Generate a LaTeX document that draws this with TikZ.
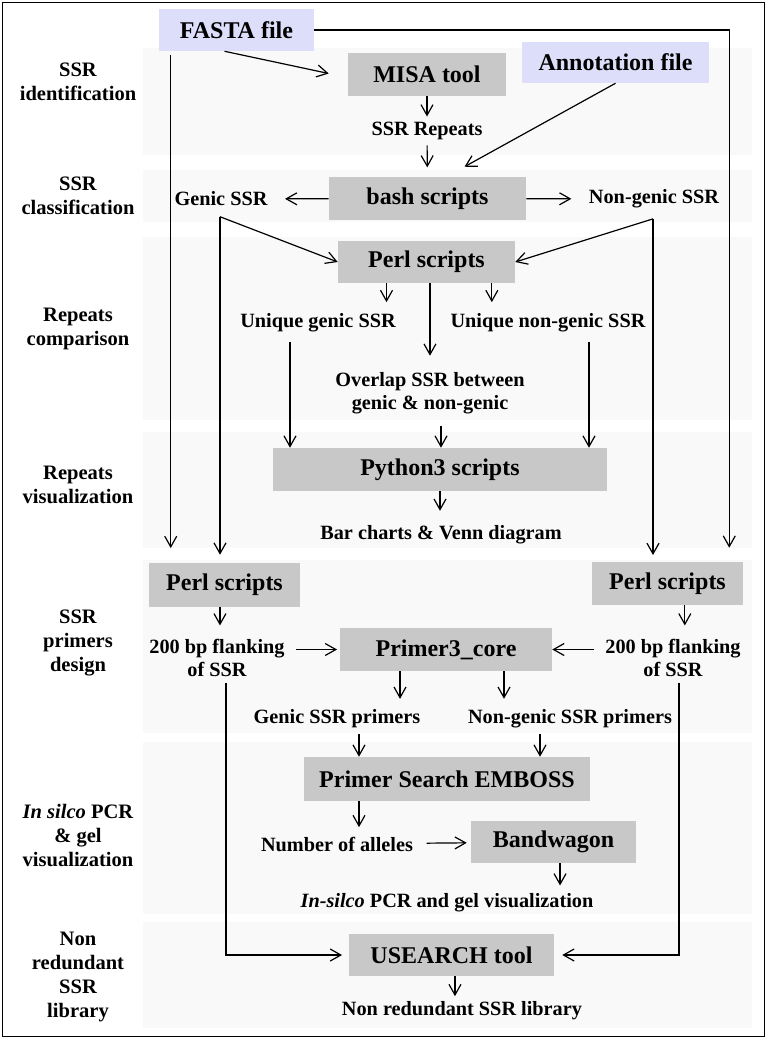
\documentclass[tikz,border=0pt]{standalone}
\usepackage{fontspec}
\setmainfont{Liberation Serif}
\usetikzlibrary{arrows.meta,calc}
\definecolor{boxgray}{RGB}{200,200,200}
\definecolor{fileblue}{RGB}{221,222,250}
\definecolor{bandgray}{RGB}{249,249,249}
\tikzset{
  tool/.style={fill=boxgray, inner sep=0pt, font=\fontsize{18}{21}\selectfont\bfseries},
  file/.style={tool, fill=fileblue},
  boxsize/.style 2 args={minimum width=#1*0.75pt, minimum height=#2*0.75pt},
  lbl/.style={font=\fontsize{15.2}{17.6}\selectfont\bfseries, align=center, inner sep=4pt},
  stage/.style={font=\fontsize{15.4}{18}\selectfont\bfseries, align=center},
  arr/.style={-{Straight Barb[length=8pt,width=9pt]}, line width=0.9pt},
}
\begin{document}
\begin{tikzpicture}[x=0.75pt, y=-0.75pt]
    \useasboundingbox (0,0) rectangle (767,1039);
    % Frame and stage bands
    \draw[line width=0.9pt] (2.5,2.5) rectangle (764.5,1036.5);
    \foreach \top/\bot in {48/155,170/222,237/420,432/548,560/733,742/914,922/1028} {
        \fill[bandgray] (143,\top) rectangle (752,\bot);
    }

    % Stage names
    \node[stage] (sident) at (78,82) {SSR\\identification};
    \node[stage] (sclass) at (78,196) {SSR\\classification};
    \node[stage] (rcomp) at (78,329) {Repeats\\comparison};
    \node[stage] (rvis) at (78,485) {Repeats\\visualization};
    \node[stage] (pdesign) at (78,643) {SSR\\primers\\design};
    \node[stage] (pcr) at (78,835) {\textit{In silco} PCR\\\& gel\\visualization};
    \node[stage] (nrstage) at (78,977) {Non\\redundant\\SSR\\library};

    % Input files and tools
    \node[file, boxsize={155}{42}] (fasta) at (236.5,30) {FASTA file};
    \node[tool, boxsize={158}{43}] (misa) at (427,74.5) {MISA tool};
    \node[file, boxsize={187}{41}] (annot) at (615.5,62.5) {Annotation file};
    \node[tool, boxsize={197}{43}] (bash) at (427.5,198.5) {bash scripts};
    \node[tool, boxsize={177}{42}] (perlm) at (426.5,262) {Perl scripts};
    \node[tool, boxsize={334}{43}] (python) at (440,469.5) {Python3 scripts};
    \node[tool, boxsize={151}{44}] (perll) at (224.5,585) {Perl scripts};
    \node[tool, boxsize={151}{43}] (perlr) at (667.5,583.5) {Perl scripts};
    \node[tool, boxsize={212}{43}] (primer) at (446,649.5) {Primer3\_core};
    \node[tool, boxsize={286}{44}] (psearch) at (447,779) {Primer Search EMBOSS};
    \node[tool, boxsize={165}{42}] (bandw) at (553.5,842) {Bandwagon};
    \node[tool, boxsize={205}{42}] (usearch) at (451.5,955) {USEARCH tool};

    % Intermediate results
    \node[lbl] (repeats) at (427,131) {SSR Repeats};
    \node[lbl] (genic) at (221,199) {Genic SSR};
    \node[lbl] (nongenic) at (654,199) {Non-genic SSR};
    \node[lbl] (ugenic) at (318,323) {Unique genic SSR};
    \node[lbl] (ungenic) at (548,323) {Unique non-genic SSR};
    \node[lbl] (overlap) at (430,393) {Overlap SSR between\\genic \& non-genic};
    \node[lbl] (bars) at (441,535) {Bar charts \& Venn diagram};
    \node[lbl] (flankl) at (217,658) {200 bp flanking\\of SSR};
    \node[lbl] (flankr) at (673,658) {200 bp flanking\\of SSR};
    \node[lbl] (gprim) at (337,719) {Genic SSR primers};
    \node[lbl] (ngprim) at (570,719) {Non-genic SSR primers};
    \node[lbl] (alleles) at (337,844) {Number of alleles};
    \node[lbl] (insilico) at (447,903) {\textit{In-silco} PCR and gel visualization};
    \node[lbl] (nrlib) at (462,1011) {Non redundant SSR library};

    % Identification
    \draw[arr] ($(fasta.south)+(-12,0)$) -- ($(misa.west)+(-19,-1)$);
    \draw[arr, shorten >=10.5pt] (fasta.east) -| ($(perlr.north east)+(-14,0)$);
    \draw[arr, shorten <=3pt, shorten >=11pt] ($(fasta.south west)+(12,0)$) -- ($(perll.north west)+(22,0)$);
    \draw[arr] (misa) -- (repeats);
    \draw[arr, shorten >=7pt] (repeats) -- (bash);
    \draw[arr] (annot.south) -- ($(bash.north)+(37,-10)$);

    % Classification
    \draw[arr, shorten >=9pt] (bash) -- (genic);
    \draw[arr, shorten >=9pt] (bash) -- (nongenic);
    \coordinate (gc) at ($(genic.south)+(-1,5)$);
    \coordinate (nc) at ($(nongenic.south)+(-1,5)$);
    \draw[arr] (gc) -- (perlm.west);
    \draw[arr] (nc) -- (perlm.east);
    \draw[arr, shorten >=6pt] (gc) -- (gc |- perll.north);
    \draw[arr, shorten >=5pt] (nc) -- (nc |- perlr.north);

    % Comparison
    \draw[arr, shorten >=4.5pt] ([xshift=-30pt]perlm.south) -- ([xshift=-30pt]perlm.south |- ugenic.north);
    \draw[arr, shorten >=4.5pt] ([xshift=49pt]perlm.south) -- ([xshift=49pt]perlm.south |- ungenic.north);
    \draw[arr, shorten >=8pt] ([xshift=2.6pt]perlm.south) -- ([xshift=2.6pt]perlm.south |- overlap.north);
    \draw[arr, shorten <=3pt] ([xshift=-21pt]ugenic.south) -- ([xshift=-21pt]ugenic.south |- python.north);
    \draw[arr, shorten <=3pt] ([xshift=30.75pt]ungenic.south) -- ([xshift=30.75pt]ungenic.south |- python.north);
    \draw[arr, shorten <=5pt] ([xshift=8.25pt]overlap.south) -- ([xshift=8.25pt]overlap.south |- python.north);

    % Visualization
    \draw[arr, shorten >=7pt] (python) -- (python |- bars.north);

    % Primer design
    \draw[arr, shorten >=6pt] ([xshift=-3.4pt]perll.south) -- ([xshift=-3.4pt]perll.south |- flankl.north);
    \draw[arr, shorten >=6pt] ([xshift=13pt]perlr.south) -- ([xshift=13pt]perlr.south |- flankr.north);
    \draw[arr, shorten <=4pt, shorten >=2pt] (flankl.east |- primer) -- (primer);
    \draw[arr, shorten <=4pt] (flankr.west |- primer) -- (primer);
    \draw[arr, shorten >=4pt] ([xshift=-34.5pt]primer.south) -- ([xshift=-34.5pt]primer.south |- gprim.north);
    \draw[arr, shorten >=4pt] ([xshift=43.5pt]primer.south) -- ([xshift=43.5pt]primer.south |- ngprim.north);
    \draw[arr] ([xshift=16.5pt]gprim.south) -- ([xshift=16.5pt]gprim.south |- psearch.north);
    \draw[arr] ([xshift=-22.5pt]ngprim.south) -- ([xshift=-22.5pt]ngprim.south |- psearch.north);

    % In silico PCR
    \draw[arr, shorten >=3pt] ([xshift=-66pt]psearch.south) -- ([xshift=-66pt]psearch.south |- alleles.north);
    \draw[arr, shorten <=6pt, shorten >=3pt] (alleles) -- (bandw);
    \draw[arr, shorten >=2pt] ([xshift=4.9pt]bandw.south) -- ([xshift=4.9pt]bandw.south |- insilico.north);

    % Non redundant library
    \draw[arr, shorten >=5pt] ([xshift=6.75pt]flankl.south) |- (usearch.west);
    \draw[arr, shorten >=6pt] ([xshift=4.5pt]flankr.south) |- (usearch.east);
    \draw[arr] ([xshift=2.6pt]usearch.south) -- ([xshift=2.6pt]usearch.south |- nrlib.north);
\end{tikzpicture}
\end{document}
